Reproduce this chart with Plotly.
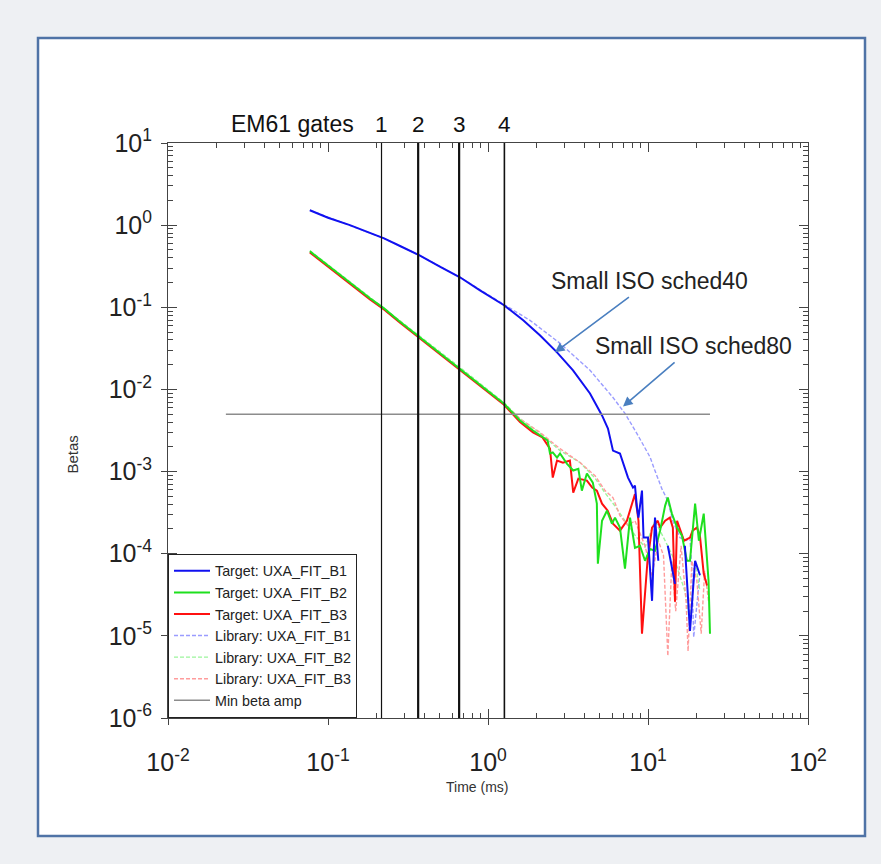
import math
import plotly.graph_objects as go

# ---------------- data (time in ms, betas) ----------------
t_b1 = [0.077, 0.10, 0.137, 0.183, 0.224, 0.282, 0.371, 0.50, 0.668, 0.891, 1.26, 1.66, 2.11, 2.70,
        3.40, 4.34, 5.16, 5.62, 6.04, 6.68, 7.50, 8.06, 8.29, 8.53, 8.72, 9.17, 9.38, 10.0, 10.6,
        11.06, 11.6, 12.4, 13.3, 14.75, 15.9, 17.0, 18.3, 19.7, 21.1]
y_b1 = [1.52, 1.23, 1.0, 0.805, 0.69, 0.557, 0.431, 0.313, 0.232, 0.161, 0.106, 0.0694, 0.0456, 0.0283,
        0.0171, 0.00894, 0.00482, 0.00334, 0.0018, 0.00166, 0.000845, 0.000638, 0.000675, 0.000364,
        0.000275, 0.000586, 0.000157, 0.000157, 2.67e-5, 0.000275, 8.2e-5, None, 0.000125, 4.3e-5,
        None, 0.000125, 1.15e-5, 8.2e-5, 5.5e-5]

t_b2 = [0.077, 0.10, 0.137, 0.183, 0.224, 0.282, 0.371, 0.50, 0.668, 0.891, 1.06, 1.26, 1.585, 1.91,
        2.36, 2.44, 2.54, 2.70, 2.82, 3.11, 3.41, 3.67, 3.86, 4.15, 4.52, 4.79, 4.86, 5.16, 5.54, 5.95,
        6.22, 6.68, 7.18, 7.72, 8.29, 8.91, 9.58, 10.3, 11.06, 11.9, 12.8, 13.3, 14.1, 15.2, 16.3,
        17.5, 18.3, 19.7, 20.8, 22.3, 23.9, 24.4]
y_b2 = [0.48, 0.32, 0.20, 0.129, 0.097, 0.0668, 0.044, 0.028, 0.018, 0.0116, 0.0089, 0.0067, 0.00419,
        0.00316, 0.00239, 0.00166, 0.00171, 0.00148, 0.00166, 0.00125, 0.00103, 0.00108, 0.000586,
        0.000946, 0.000734, 0.000407, 7.55e-5, 0.000252, 0.000334, 0.000232, 0.000275, 0.000208,
        6.6e-5, 0.000275, 0.000118, 0.000125, 8.2e-5, 0.000114, 0.000109, 0.000191, 0.000385,
        0.000482, 0.000308, 0.000208, 0.000166, 8.2e-5, 8.2e-5, 0.000407, 0.000144, 0.000308,
        4.7e-5, 1.06e-5]

t_b3 = [0.077, 0.10, 0.137, 0.183, 0.224, 0.282, 0.371, 0.50, 0.668, 0.891, 1.06, 1.26, 1.585, 1.91,
        2.19, 2.44, 2.54, 2.70, 2.94, 3.25, 3.41, 3.67, 4.15, 4.48, 4.79, 5.16, 5.6, 6.04, 6.68, 7.38,
        8.29, 8.72, 9.17, 9.93, 10.6, 11.5, 11.9, 12.8, 13.7, 14.3, 14.75, 15.2, 16.8, 18.3, 19.0,
        20.2, 21.1, 22.3, 23.4]
y_b3 = [0.465, 0.31, 0.194, 0.125, 0.094, 0.0648, 0.0427, 0.0272, 0.0175, 0.0113, 0.0086, 0.0065,
        0.0040, 0.0030, 0.0026, 0.0019, 0.000845, 0.00136, 0.00128, 0.00136, 0.000555, 0.000822,
        0.000776, 0.000638, 0.000586, 0.000407, 0.000334, 0.000232, 0.000191, 0.000252, 0.000533,
        0.000252, 1.06e-5, 8.2e-5, 0.000208, 0.000252, 0.000208, 0.000252, 0.000275, 0.000208,
        2.6e-5, 0.000252, 0.000144, 0.000157, 0.000191, 0.000208, 0.000167, 5.7e-5, 4.1e-5]

t_lib1 = [0.077, 0.137, 0.224, 0.371, 0.668, 1.26, 1.83, 2.82, 4.34, 6.04, 7.18, 8.53, 10.3, 11.0,
          12.2, 13.3, 14.3, 15.85, 17.4, 18.3, 18.8, 19.3, 20.2, 21.1]
y_lib1 = [1.52, 1.0, 0.69, 0.431, 0.232, 0.108, 0.0694, 0.0364, 0.0171, 0.00798, 0.0051, 0.0029,
          0.0015, 0.00105, 0.00062, 0.00044, 0.00025, 0.000157, 0.000145, 0.000157, 6.2e-5, 9.6e-6,
          2.45e-5, 5.7e-5]

t_lib2 = [0.077, 0.137, 0.224, 0.371, 0.668, 1.26, 1.585, 2.11, 2.82, 3.76, 4.67, 5.39, 6.22, 7.18,
          8.29, 9.58, 11.06, 12.8, 14.75, 17.0, 18.3, 19.7, 21.1]
y_lib2 = [0.49, 0.205, 0.099, 0.045, 0.0185, 0.0069, 0.0044, 0.00295, 0.0018, 0.00129, 0.00083,
          0.00055, 0.00038, 0.000252, 0.000168, 0.00012, 0.000252, 0.000144, 8.2e-5, 3.5e-5, 1.5e-5,
          8.2e-5, 3.5e-5]

t_lib3 = [0.077, 0.137, 0.224, 0.371, 0.668, 1.26, 1.585, 2.11, 2.82, 3.76, 4.67, 5.39, 6.04, 6.68,
          7.5, 8.29, 9.58, 10.6, 11.6, 12.5, 13.3, 14.1, 14.9, 16.1, 17.3, 17.8, 18.8, 20.2, 21.5,
          22.6, 23.9]
y_lib3 = [0.47, 0.196, 0.095, 0.043, 0.0177, 0.0066, 0.0044, 0.0030, 0.0019, 0.00129, 0.00089,
          0.000586, 0.000482, 0.00029, 0.00022, 0.000252, 0.000125, 5.4e-5, 0.000144, 9.5e-5, 5.7e-6,
          8.2e-5, 2.0e-5, 0.000125, 2.67e-5, 6.5e-6, 8.2e-5, 4.7e-5, 1.06e-5, 6.2e-5, 2.67e-5]

min_beta_t = [0.023, 24.4]
min_beta_amp = 0.005

gate_times = [0.216, 0.366, 0.660, 1.266]
gate_labels = ["1", "2", "3", "4"]
gate_widths = [1.2, 2.2, 2.2, 1.6]

# arrow targets (time, beta) for the two callouts
callout_texts = ["Small ISO sched40", "Small ISO sched80"]
callout_t = [2.62, 6.98]
callout_beta = [0.0283, 0.0062]

x_tickvals = [0.01, 0.1, 1, 10, 100]
x_ticktext = ["10<sup>-2</sup>", "10<sup>-1</sup>", "10<sup>0</sup>", "10<sup>1</sup>", "10<sup>2</sup>"]
y_tickvals = [1e-6, 1e-5, 1e-4, 1e-3, 1e-2, 1e-1, 1, 10]
y_ticktext = ["10<sup>-6</sup>", "10<sup>-5</sup>", "10<sup>-4</sup>", "10<sup>-3</sup>",
              "10<sup>-2</sup>", "10<sup>-1</sup>", "10<sup>0</sup>", "10<sup>1</sup>"]

# ---------------- figure ----------------
W, H = 881, 864
L, R, T, B = 168, 808, 143, 718   # plot area in pixels
FONT = "Arial, Liberation Sans, Helvetica, sans-serif"
NARROW = "Liberation Sans Narrow, Arial Narrow, " + FONT


def px_x(px):
    return (px - L) / (R - L)


def px_y(py):
    return (B - py) / (B - T)


fig = go.Figure()

lib_dash = "4px,2px"
fig.add_trace(go.Scatter(x=t_lib1, y=y_lib1, mode="lines", name="Library: UXA_FIT_B1",
                         line=dict(color="#9a9cff", width=1.4, dash=lib_dash), legendrank=4))
fig.add_trace(go.Scatter(x=t_lib2, y=y_lib2, mode="lines", name="Library: UXA_FIT_B2",
                         line=dict(color="#9cf59c", width=1.4, dash=lib_dash), legendrank=5))
fig.add_trace(go.Scatter(x=t_lib3, y=y_lib3, mode="lines", name="Library: UXA_FIT_B3",
                         line=dict(color="#ff9c9c", width=1.4, dash=lib_dash), legendrank=6))
fig.add_trace(go.Scatter(x=t_b3, y=y_b3, mode="lines", name="Target: UXA_FIT_B3",
                         line=dict(color="#ff1010", width=2), legendrank=3))
fig.add_trace(go.Scatter(x=t_b2, y=y_b2, mode="lines", name="Target: UXA_FIT_B2",
                         line=dict(color="#1ee01e", width=2), legendrank=2))
fig.add_trace(go.Scatter(x=t_b1, y=y_b1, mode="lines", name="Target: UXA_FIT_B1",
                         line=dict(color="#1010f0", width=2), legendrank=1, connectgaps=False))
fig.add_trace(go.Scatter(x=min_beta_t, y=[min_beta_amp] * len(min_beta_t), mode="lines",
                         name="Min beta amp", line=dict(color="#8c8c8c", width=1.5), legendrank=7))
# empty trace carrying the overlay axes used for the outward half of the major ticks
fig.add_trace(go.Scatter(x=[], y=[], xaxis="x2", yaxis="y2", showlegend=False, hoverinfo="skip"))

# outer slide frame
fig.add_shape(type="rect", xref="paper", yref="paper",
              x0=px_x(38), x1=px_x(865), y0=px_y(836), y1=px_y(38),
              fillcolor="white", line=dict(color="#4f73a6", width=2.5), layer="below")

# gate lines + labels
for gt, gl, gw in zip(gate_times, gate_labels, gate_widths):
    fig.add_shape(type="line", xref="x", yref="paper", x0=gt, x1=gt, y0=0, y1=1,
                  line=dict(color="#111111", width=gw))
    fig.add_annotation(x=math.log10(gt), xref="x", y=px_y(124), yref="paper", text=gl,
                       showarrow=False, font=dict(family=FONT, size=22.5, color="#111"),
                       yanchor="middle")
fig.add_annotation(x=px_x(356), xref="paper", y=px_y(124), yref="paper", text="EM61 gates",
                   showarrow=False, xanchor="right", yanchor="middle",
                   font=dict(family=FONT, size=23, color="#111"))

# callouts with arrows
arrow_col = "#4a7fc0"
callout_offsets = [(95, -71), (70, -60)]
for txt, ct, cb, (ax, ay) in zip(callout_texts, callout_t, callout_beta, callout_offsets):
    fig.add_annotation(x=math.log10(ct), y=math.log10(cb), xref="x", yref="y", text=txt,
                       showarrow=True, ax=ax, ay=ay, arrowhead=2, arrowsize=1.2, arrowwidth=1.6,
                       arrowcolor=arrow_col, standoff=0, startstandoff=2,
                       font=dict(family=FONT, size=23, color="#222"))

# axis titles
fig.add_annotation(x=px_x(62), y=px_y(455), xref="paper", yref="paper", text="Betas",
                   showarrow=False, textangle=-90, font=dict(family=NARROW, size=15, color="#333"))
fig.add_annotation(x=px_x(477), y=px_y(797), xref="paper", yref="paper", text="Time (ms)",
                   showarrow=False, font=dict(family=NARROW, size=14, color="#333"))

x_minor = [m * 10 ** e for e in range(-2, 2) for m in range(2, 10)]
y_minor = [m * 10 ** e for e in range(-6, 1) for m in range(2, 10)]

axis_common = dict(showgrid=False, zeroline=False, showline=True, linecolor="#444", linewidth=1,
                   mirror="allticks", ticks="inside", ticklen=9, tickcolor="#444",
                   tickfont=dict(family=FONT, size=25, color="#222"), tickmode="array")

fig.update_layout(
    xaxis=dict(type="log", range=[-2, 2], tickvals=x_tickvals, ticktext=x_ticktext,
               ticklabelstandoff=22,
               minor=dict(tickmode="array", tickvals=x_minor, ticks="inside", ticklen=5,
                          tickcolor="#444", showgrid=False), **axis_common),
    yaxis=dict(type="log", range=[-6, 1], tickvals=y_tickvals, ticktext=y_ticktext,
               ticklabelstandoff=10,
               minor=dict(tickmode="array", tickvals=y_minor, ticks="inside", ticklen=5,
                          tickcolor="#444", showgrid=False), **axis_common),
    xaxis2=dict(type="log", range=[-2, 2], overlaying="x", anchor="y2", side="bottom",
                tickmode="array", tickvals=x_tickvals, ticks="outside", ticklen=6,
                tickcolor="#444", showticklabels=False, showgrid=False, zeroline=False,
                showline=False),
    yaxis2=dict(type="log", range=[-6, 1], overlaying="y", anchor="x2", side="left",
                tickmode="array", tickvals=y_tickvals, ticks="outside", ticklen=6,
                tickcolor="#444", showticklabels=False, showgrid=False, zeroline=False,
                showline=False),
    width=W, height=H,
    margin=dict(l=L, r=W - R, t=T, b=H - B, autoexpand=False),
    paper_bgcolor="#eef0f3", plot_bgcolor="white",
    font=dict(family=FONT),
    showlegend=True,
    legend=dict(x=0, y=0, xanchor="left", yanchor="bottom", bgcolor="white",
                bordercolor="#222", borderwidth=1, itemwidth=36, tracegroupgap=0,
                font=dict(family=FONT, size=14.3, color="#222"), traceorder="normal"),
)

fig.write_html("out.html", config={"displayModeBar": False},
               post_script="document.body.style.margin='0';")
